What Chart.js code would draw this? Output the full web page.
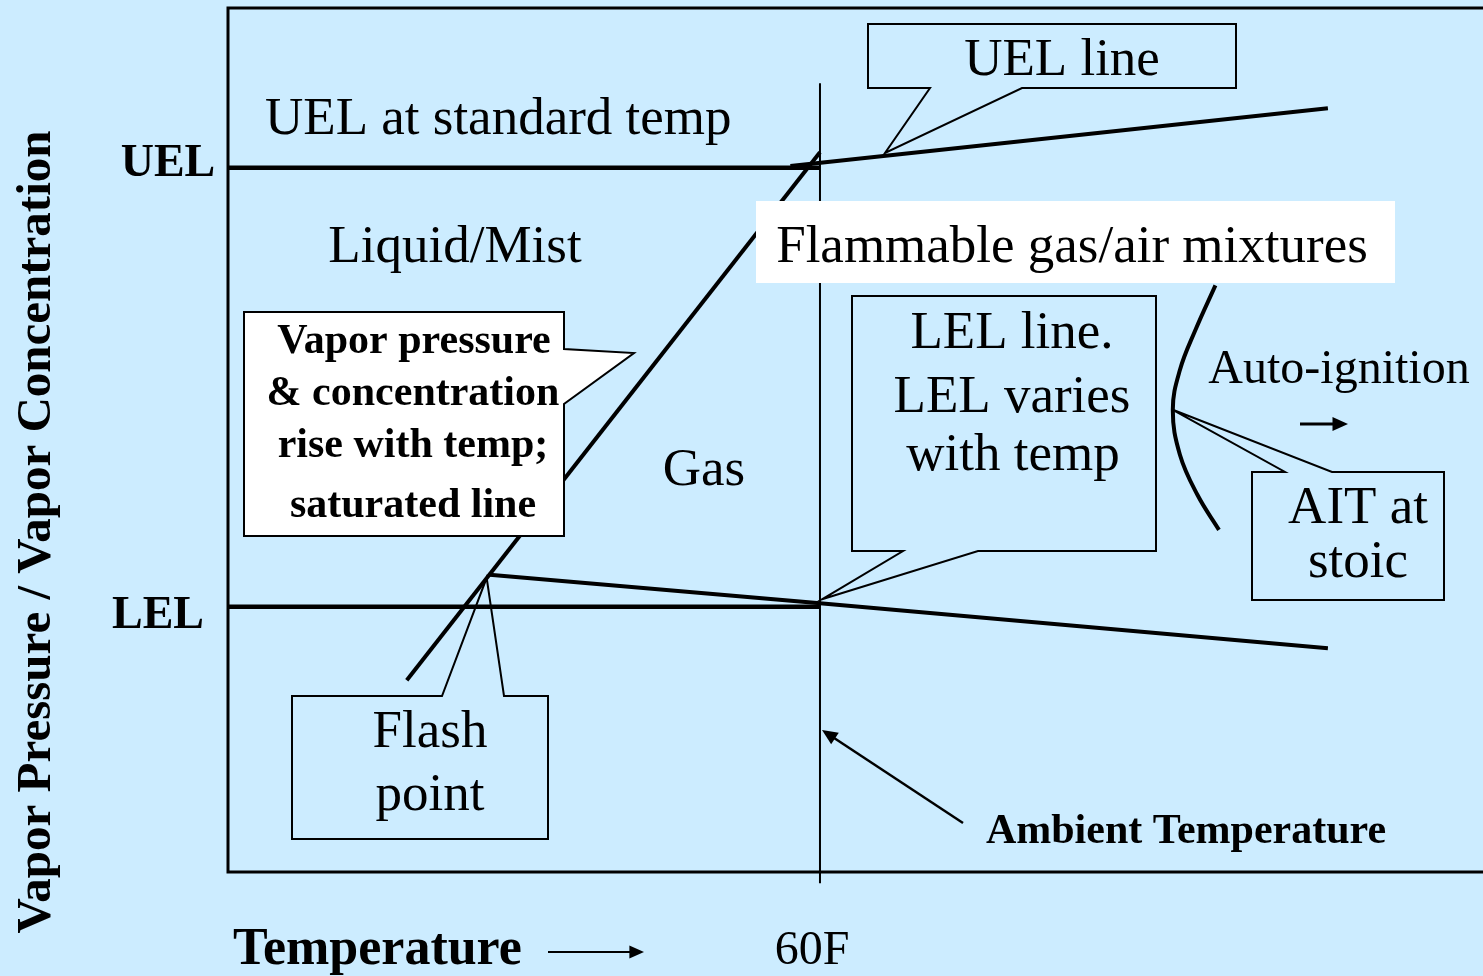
<!DOCTYPE html>
<html>
<head>
<meta charset="utf-8">
<script src="https://cdn.jsdelivr.net/npm/chart.js@4/dist/chart.umd.min.js"></script>
<style>
  html, body { margin: 0; padding: 0; background: rgb(204, 236, 255); overflow: hidden; }
  #wrap { width: 1483px; height: 976px; position: relative; }
</style>
</head>
<body>
<div id="wrap"><canvas id="diagramme"></canvas></div>
<script>
// Valeurs du diagramme (température arbitraire, 60F = 50 ; concentration 0-100)
const ambientTemp = 50
const ambientRange = [-1.3, 91.3]

const standardTemp = [0, 50]
const uelStandard = [81.5, 81.5]
const lelStandard = [30.7, 30.7]

const saturatedTemp = [15.1, 50]
const saturatedConc = [22.2, 83.3]

const uelTemp = [47.5, 92.9]
const uelConc = [81.7, 88.4]

const lelTemp = [22.1, 50, 92.9]
const lelConc = [34.4, 31.1, 25.9]

const aitTemp = [83.4, 81.7, 80.4, 79.8, 80.4, 81.9, 83.7]
const aitConc = [67.9, 62.7, 58.1, 53.5, 48.3, 43.6, 39.6]

const points = (xs, ys) => xs.map((x, i) => ({x: x, y: ys[i]}))

const serif = "'Liberation Serif', 'Times New Roman', serif"

function callout(ctx, box, side, a, b, tip, fill) {
    const [l, t, r, btm] = box
    ctx.beginPath()
    ctx.moveTo(l, t)
    if (side === "top") { ctx.lineTo(a, t); ctx.lineTo(tip.x, tip.y); ctx.lineTo(b, t) }
    ctx.lineTo(r, t)
    if (side === "right") { ctx.lineTo(r, a); ctx.lineTo(tip.x, tip.y); ctx.lineTo(r, b) }
    ctx.lineTo(r, btm)
    if (side === "bottom") { ctx.lineTo(b, btm); ctx.lineTo(tip.x, tip.y); ctx.lineTo(a, btm) }
    ctx.lineTo(l, btm)
    ctx.closePath()
    if (fill) { ctx.fillStyle = fill; ctx.fill() }
    ctx.lineWidth = 2
    ctx.strokeStyle = "#000"
    ctx.stroke()
}

function arrow(ctx, x1, y1, x2, y2, width, head) {
    const ang = Math.atan2(y2 - y1, x2 - x1)
    ctx.beginPath()
    ctx.moveTo(x1, y1)
    ctx.lineTo(x2 - Math.cos(ang) * head * 0.8, y2 - Math.sin(ang) * head * 0.8)
    ctx.lineWidth = width
    ctx.strokeStyle = "#000"
    ctx.stroke()
    ctx.beginPath()
    ctx.moveTo(x2, y2)
    ctx.lineTo(x2 - Math.cos(ang - 0.42) * head, y2 - Math.sin(ang - 0.42) * head)
    ctx.lineTo(x2 - Math.cos(ang + 0.42) * head, y2 - Math.sin(ang + 0.42) * head)
    ctx.closePath()
    ctx.fillStyle = "#000"
    ctx.fill()
}

function texte(ctx, str, x, y, size, bold, align) {
    ctx.font = (bold ? "bold " : "") + size + "px " + serif
    ctx.textAlign = align || "center"
    ctx.textBaseline = "alphabetic"
    ctx.fillStyle = "#000"
    ctx.fillText(str, x, y)
}

const annotations = {
    id: "annotations",
    beforeDraw(chart) {
        const ctx = chart.ctx
        ctx.save()
        ctx.fillStyle = "rgb(204, 236, 255)"
        ctx.fillRect(0, 0, chart.width, chart.height)
        ctx.restore()
    },
    afterDatasetsDraw(chart) {
        const ctx = chart.ctx
        const {left, top, right, bottom} = chart.chartArea
        const xs = chart.scales.x, ys = chart.scales.y
        const px = (x, y) => ({x: xs.getPixelForValue(x), y: ys.getPixelForValue(y)})
        ctx.save()

        // Cadre (gauche, haut, bas)
        ctx.beginPath()
        ctx.moveTo(right + 5, top)
        ctx.lineTo(left, top)
        ctx.lineTo(left, bottom)
        ctx.lineTo(right + 5, bottom)
        ctx.lineWidth = 3
        ctx.strokeStyle = "#000"
        ctx.stroke()

        // Bandeau blanc
        ctx.fillStyle = "#fff"
        ctx.fillRect(756, 201, 639, 82)
        texte(ctx, "Flammable gas/air mixtures", 1072, 262, 53)

        // Bulles
        callout(ctx, [868, 24, 1236, 88], "bottom", 930, 1022, {x: 885, y: 153})
        texte(ctx, "UEL line", 1062, 75, 53)

        callout(ctx, [244, 312, 564, 536], "right", 349, 404, {x: 634, y: 353}, "#fff")
        texte(ctx, "Vapor pressure", 414, 353, 42, true)
        texte(ctx, "& concentration", 413, 405, 42, true)
        texte(ctx, "rise with temp;", 413, 457, 42, true)
        texte(ctx, "saturated line", 413, 517, 42, true)

        const tipLel = px(lelTemp[1], lelConc[1])
        callout(ctx, [852, 296, 1156, 551], "bottom", 903, 978, {x: tipLel.x + 2, y: tipLel.y - 4})
        texte(ctx, "LEL line.", 1012, 348, 53)
        texte(ctx, "LEL varies", 1012, 412, 53)
        texte(ctx, "with temp", 1013, 470, 53)

        const tipFlash = px(lelTemp[0], lelConc[0])
        callout(ctx, [292, 696, 548, 839], "top", 442, 504, {x: tipFlash.x - 3, y: tipFlash.y + 3})
        texte(ctx, "Flash", 430, 747, 53)
        texte(ctx, "point", 430, 810, 53)

        const tipAit = px(aitTemp[3], aitConc[3])
        callout(ctx, [1252, 472, 1444, 600], "top", 1285, 1332, tipAit)
        texte(ctx, "AIT at", 1358, 523, 53)
        texte(ctx, "stoic", 1358, 577, 53)

        // Étiquettes libres
        texte(ctx, "UEL at standard temp", 265, 134, 53, false, "left")
        texte(ctx, "Liquid/Mist", 455, 262, 53)
        texte(ctx, "Gas", 704, 485, 53)
        texte(ctx, "Auto-ignition", 1339, 383, 48)
        arrow(ctx, 1300, 424, 1348, 424, 3, 17)

        arrow(ctx, 963, 823, 822, 730, 2.5, 17)
        texte(ctx, "Ambient Temperature", 1186, 843, 42, true)

        texte(ctx, "UEL", 168, 176, 46, true)
        texte(ctx, "LEL", 158, 628, 46, true)

        // Titres des axes
        texte(ctx, "Temperature", 233, 964, 52, true, "left")
        arrow(ctx, 548, 952, 644, 952, 2, 16)
        texte(ctx, "60F", 812, 964, 48)

        ctx.translate(50, 532)
        ctx.rotate(-Math.PI / 2)
        texte(ctx, "Vapor Pressure / Vapor Concentration", 0, 0, 49, true)

        ctx.restore()
    }
}

const ligne = (label, data, width, extra) => Object.assign({
    label: label,
    data: data,
    showLine: true,
    borderColor: "#000",
    borderWidth: width,
    pointRadius: 0,
    fill: false,
}, extra || {})

const data = {
    datasets: [
        ligne("Ambient", points([ambientTemp, ambientTemp], ambientRange), 2, {clip: false}),
        ligne("UEL standard", points(standardTemp, uelStandard), 4.5),
        ligne("LEL standard", points(standardTemp, lelStandard), 4.5),
        ligne("UEL line", points(uelTemp, uelConc), 4),
        ligne("LEL line", points(lelTemp, lelConc), 4),
        ligne("Saturated line", points(saturatedTemp, saturatedConc), 4),
        ligne("AIT", points(aitTemp, aitConc), 4, {tension: 0.4}),
    ],
}

const config = {
    type: "scatter",
    data: data,
    options: {
        responsive: true,
        maintainAspectRatio: false,
        animation: false,
        layout: {padding: {left: 228, top: 8, right: 0, bottom: 104}},
        plugins: {legend: {display: false}, tooltip: {enabled: false}},
        scales: {
            x: {type: "linear", min: 0, max: 106, display: false},
            y: {type: "linear", min: 0, max: 100, display: false},
        },
    },
    plugins: [annotations],
}

// eslint-disable-next-line no-undef
const diagramme = new Chart(document.querySelector("#diagramme"), config)
</script>
</body>
</html>
